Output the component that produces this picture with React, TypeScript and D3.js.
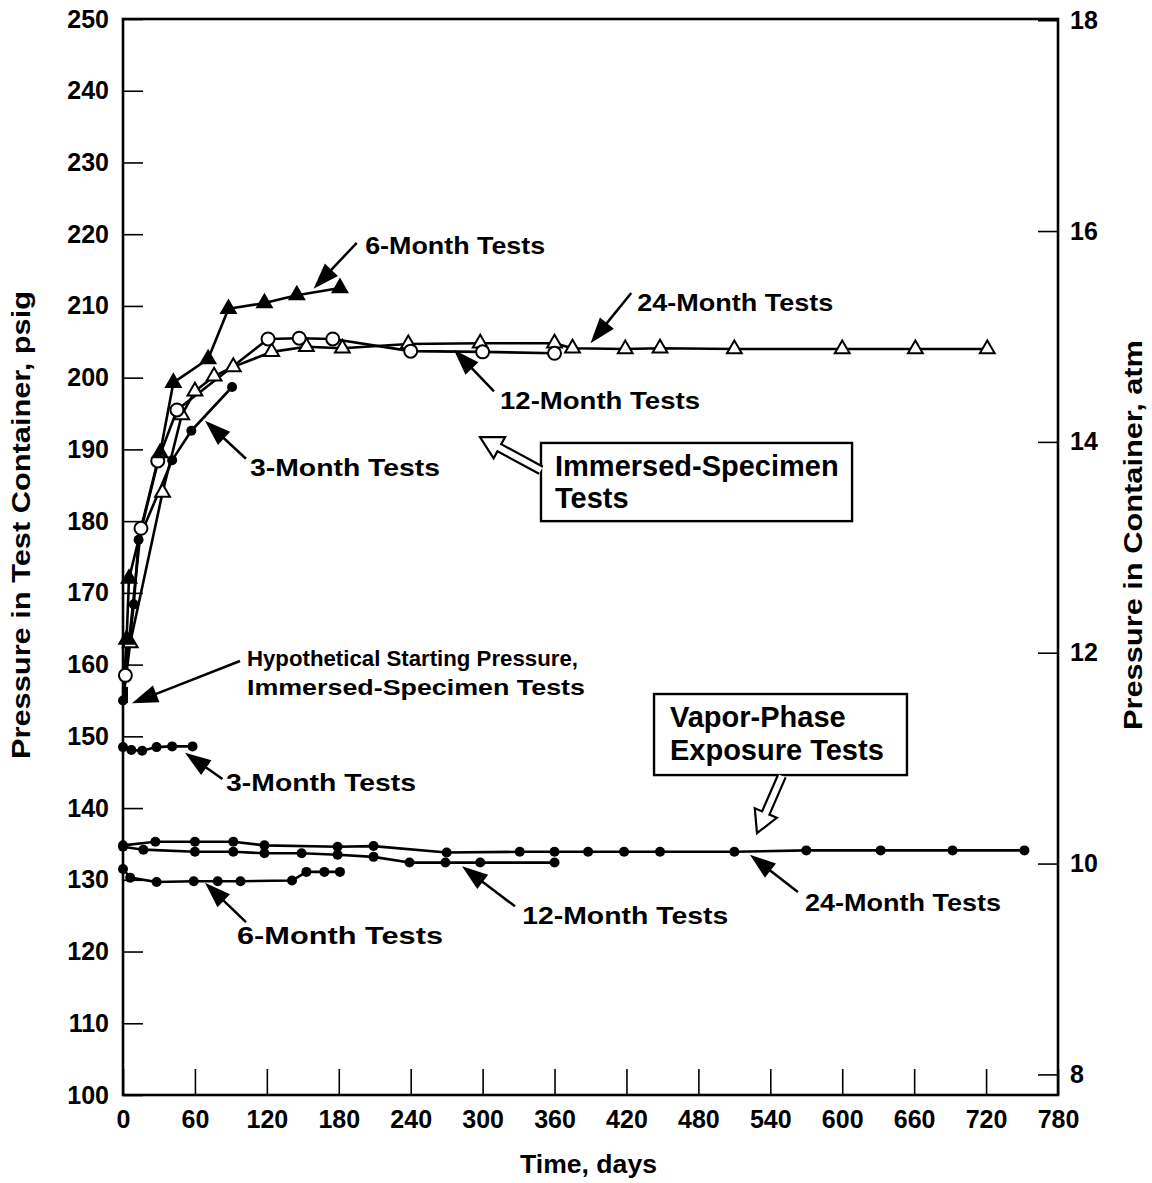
import { useEffect, useRef } from "react"
import * as d3 from "d3"

type Pt = [number, number]

// immersed-specimen tests (days, psig)
const immersed3: Pt[] = [[0, 155], [9, 168.4], [13, 177.4], [41, 188.5], [57, 192.6], [91, 198.7]]
const immersed6: Pt[] = [[0, 155], [3, 163.5], [5, 172], [31, 189.5], [42, 199.3], [71, 202.6], [88, 209.6], [118, 210.4], [145, 211.5], [181, 212.5]]
const immersed12: Pt[] = [[0, 155], [2, 158.5], [15, 179], [29, 188.4], [45, 195.5], [121, 205.4], [147, 205.5], [175, 205.4], [240, 203.7], [300, 203.6], [360, 203.4]]
const immersed24: Pt[] = [[0, 155], [6, 163], [33, 184], [49, 194.8], [60, 198.1], [76, 200.2], [92, 201.5], [124, 203.6], [153, 204.3], [183, 204.1], [238, 204.7], [298, 204.8], [360, 204.8], [375, 204.1], [419, 204], [448, 204.1], [510, 204], [600, 204], [661, 204], [721, 204]]
const startPoint: Pt[] = [[0, 155.5]]

// vapor-phase exposure tests (days, psig)
const vapor3: Pt[] = [[0, 148.5], [7, 148.1], [16, 148.0], [28, 148.5], [41, 148.6], [58, 148.6]]
const vapor6: Pt[] = [[0, 131.5], [6, 130.3], [28, 129.7], [59, 129.8], [79, 129.8], [98, 129.8], [141, 129.9], [153, 131.1], [168, 131.1], [181, 131.1]]
const vapor12: Pt[] = [[0, 134.6], [17, 134.2], [60, 133.9], [92, 133.9], [118, 133.7], [149, 133.7], [179, 133.5], [209, 133.2], [239, 132.4], [269, 132.4], [298, 132.4], [360, 132.4]]
const vapor24: Pt[] = [[0, 134.8], [27, 135.3], [60, 135.3], [92, 135.3], [118, 134.8], [179, 134.6], [209, 134.7], [270, 133.8], [331, 133.9], [360, 133.9], [388, 133.9], [418, 133.9], [448, 133.9], [510, 133.9], [570, 134.1], [632, 134.1], [692, 134.1], [752, 134.1]]

const xTicks = d3.range(0, 781, 60)
const yTicks = d3.range(100, 251, 10)
const atmTicks = [8, 10, 12, 14, 16, 18]

// callouts: label position, arrow tail and tip, all in (days, psig); widths are the printed text widths
const callouts = [
  { lines: ["6-Month Tests"], widths: [180], size: 24, at: [202, 218.5], tail: [195, 218.8], tip: [159, 212.4] },
  { lines: ["24-Month Tests"], widths: [196], size: 24, at: [429, 210.5], tail: [424, 211.8], tip: [390, 204.8] },
  { lines: ["12-Month Tests"], widths: [200], size: 24, at: [314.5, 196.9], tail: [309.5, 198.1], tip: [276, 203.9] },
  { lines: ["3-Month Tests"], widths: [190], size: 24, at: [106, 187.5], tail: [102.6, 188.7], tip: [68.4, 194.0] },
  { lines: ["Hypothetical Starting Pressure,", "Immersed-Specimen Tests"], widths: [331, 338], size: 22, at: [103.4, 160.9], tail: [97.6, 160.5], tip: [7.5, 154.6] },
  { lines: ["3-Month Tests"], widths: [190], size: 24, at: [86, 143.6], tail: [83, 144.05], tip: [51.7, 147.7] },
  { lines: ["6-Month Tests"], widths: [206], size: 24, at: [95.1, 122.2], tail: [102.6, 124.1], tip: [68.4, 129.6] },
  { lines: ["12-Month Tests"], widths: [206], size: 24, at: [333, 125.0], tail: [327, 126.3], tip: [282.8, 131.9] },
  { lines: ["24-Month Tests"], widths: [196], size: 24, at: [569, 126.9], tail: [563, 128.3], tip: [523, 133.5] },
]

const boxes = [
  { lines: ["Immersed-Specimen", "Tests"], x0: 348.7, x1: 608.2, top: 190.9, bottom: 180.0, textX: 360.4, textY: [187.8, 183.3], tail: [348.7, 187.1], tip: [297.8, 191.7] },
  { lines: ["Vapor-Phase", "Exposure Tests"], x0: 443, x1: 654, top: 155.9, bottom: 144.6, textX: 456.3, textY: [152.7, 148.1], tail: [549.7, 144.5], tip: [528.9, 136.5] },
]

const FONT = "'Liberation Sans', Arial, Helvetica, sans-serif"

export default function App() {
  const svgRef = useRef<SVGSVGElement>(null)

  useEffect(() => {
    if (!svgRef.current) return
    const svg = d3.select(svgRef.current)
    svg.selectAll("*").remove()

    const width = 1152
    const height = 1183
    const left = 123
    const right = 1058
    const top = 19
    const bottom = 1095

    const x = d3.scaleLinear().domain([0, 780]).range([left, right])
    const y = d3.scaleLinear().domain([100, 250]).range([bottom, top])
    // absolute atmospheres: psig / 14.696 + 1
    const yAtm = d3.scaleLinear().domain([100 / 14.696 + 1, 250 / 14.696 + 1]).range([bottom, top])

    svg.attr("width", width).attr("height", height).style("font-family", FONT)

    svg.append("rect").attr("width", width).attr("height", height).attr("fill", "white")

    // axes
    const axL = svg.append("g").attr("transform", `translate(${left},0)`)
      .call(d3.axisLeft(y).tickValues(yTicks).tickSizeInner(-20).tickSizeOuter(0).tickPadding(14).tickFormat(d3.format("d")))
    const axR = svg.append("g").attr("transform", `translate(${right},0)`)
      .call(d3.axisRight(yAtm).tickValues(atmTicks).tickSizeInner(-20).tickSizeOuter(0).tickPadding(12).tickFormat(d3.format("d")))
    const axB = svg.append("g").attr("transform", `translate(0,${bottom})`)
      .call(d3.axisBottom(x).tickValues(xTicks).tickSizeInner(-26).tickSizeOuter(0).tickPadding(15).tickFormat(d3.format("d")))

    ;[axL, axR, axB].forEach((ax) => {
      ax.select(".domain").remove()
      ax.selectAll("line").attr("stroke", "#000").attr("stroke-width", 1.6)
      ax.selectAll("text").attr("fill", "#000").style("font-size", "25px").style("font-weight", "bold").style("font-family", FONT)
    })
    axB.selectAll("text").attr("dy", "0.71em")

    svg.append("rect")
      .attr("x", left).attr("y", top)
      .attr("width", right - left).attr("height", bottom - top)
      .attr("fill", "none").attr("stroke", "#000").attr("stroke-width", 2.6)

    // axis titles
    svg.append("text")
      .attr("transform", `translate(30,525) rotate(-90)`)
      .attr("text-anchor", "middle")
      .attr("textLength", 468).attr("lengthAdjust", "spacingAndGlyphs")
      .style("font-size", "25px").style("font-weight", "bold")
      .text("Pressure in Test Container, psig")
    svg.append("text")
      .attr("transform", `translate(1142,535) rotate(-90)`)
      .attr("text-anchor", "middle")
      .attr("textLength", 390).attr("lengthAdjust", "spacingAndGlyphs")
      .style("font-size", "25px").style("font-weight", "bold")
      .text("Pressure in Container, atm")
    svg.append("text")
      .attr("x", (left + right) / 2 - 2).attr("y", 1173)
      .attr("text-anchor", "middle")
      .attr("textLength", 137).attr("lengthAdjust", "spacingAndGlyphs")
      .style("font-size", "25px").style("font-weight", "bold")
      .text("Time, days")

    const line = d3.line<Pt>().x((d) => x(d[0])).y((d) => y(d[1]))
    const series: { data: Pt[]; marker: string }[] = [
      { data: vapor3, marker: "dot" },
      { data: vapor6, marker: "dot" },
      { data: vapor12, marker: "dot" },
      { data: vapor24, marker: "dot" },
      { data: immersed3, marker: "dot" },
      { data: immersed24, marker: "openTri" },
      { data: immersed12, marker: "openCircle" },
      { data: immersed6, marker: "filledTri" },
    ]

    const plot = svg.append("g")
    series.forEach((s) => {
      plot.append("path").datum(s.data).attr("d", line)
        .attr("fill", "none").attr("stroke", "#000").attr("stroke-width", 2.6).attr("stroke-linejoin", "round")
    })

    const triUp = d3.symbol().type(d3.symbolTriangle)
    series.forEach((s) => {
      const pts = s.marker === "dot" ? s.data : s.data.slice(1)
      const g = plot.append("g")
      pts.forEach((d) => {
        const cx = x(d[0])
        const cy = y(d[1])
        if (s.marker === "dot") {
          g.append("circle").attr("cx", cx).attr("cy", cy).attr("r", 5).attr("fill", "#000")
        } else if (s.marker === "openCircle") {
          g.append("circle").attr("cx", cx).attr("cy", cy).attr("r", 6.5).attr("fill", "#fff").attr("stroke", "#000").attr("stroke-width", 2)
        } else if (s.marker === "openTri") {
          g.append("path").attr("d", triUp.size(95)()).attr("transform", `translate(${cx},${cy})`)
            .attr("fill", "#fff").attr("stroke", "#000").attr("stroke-width", 2)
        } else {
          g.append("path").attr("d", triUp.size(140)()).attr("transform", `translate(${cx},${cy})`)
            .attr("fill", "#000")
        }
      })
    })
    startPoint.forEach((d) => {
      plot.append("rect").attr("x", x(d[0])).attr("y", y(d[1]) - 10).attr("width", 5).attr("height", 16).attr("fill", "#000")
    })

    // filled arrow from tail to tip
    const arrow = (tail: number[], tip: number[]) => {
      const x0 = x(tail[0]), y0 = y(tail[1]), x1 = x(tip[0]), y1 = y(tip[1])
      const dx = x1 - x0, dy = y1 - y0
      const len = Math.hypot(dx, dy)
      const ux = dx / len, uy = dy / len
      const hl = 26, hw = 9
      const bx = x1 - ux * hl, by = y1 - uy * hl
      svg.append("line").attr("x1", x0).attr("y1", y0).attr("x2", bx + ux * 2).attr("y2", by + uy * 2)
        .attr("stroke", "#000").attr("stroke-width", 2.5)
      svg.append("path")
        .attr("d", `M${x1},${y1}L${bx - uy * hw},${by + ux * hw}L${bx + uy * hw},${by - ux * hw}Z`)
        .attr("fill", "#000")
    }

    // outlined (hollow) arrow
    const hollowArrow = (tail: number[], tip: number[]) => {
      const x0 = x(tail[0]), y0 = y(tail[1]), x1 = x(tip[0]), y1 = y(tip[1])
      const dx = x1 - x0, dy = y1 - y0
      const len = Math.hypot(dx, dy)
      const ux = dx / len, uy = dy / len
      const px = -uy, py = ux
      const hl = 22, hw = 12, sw = 4
      const bx = x1 - ux * hl, by = y1 - uy * hl
      const p = [
        [x0 + px * sw, y0 + py * sw],
        [bx + px * sw, by + py * sw],
        [bx + px * hw, by + py * hw],
        [x1, y1],
        [bx - px * hw, by - py * hw],
        [bx - px * sw, by - py * sw],
        [x0 - px * sw, y0 - py * sw],
      ]
      svg.append("path").attr("d", "M" + p.map((q) => q.join(",")).join("L"))
        .attr("fill", "#fff").attr("stroke", "#000").attr("stroke-width", 2.2).attr("stroke-linejoin", "miter")
    }

    callouts.forEach((c) => {
      arrow(c.tail, c.tip)
      c.lines.forEach((t, i) => {
        svg.append("text")
          .attr("x", x(c.at[0])).attr("y", y(c.at[1]) + i * 29)
          .attr("dy", "0.36em")
          .attr("textLength", c.widths[i]).attr("lengthAdjust", "spacingAndGlyphs")
          .style("font-size", `${c.size}px`).style("font-weight", "bold")
          .text(t)
      })
    })

    boxes.forEach((b) => {
      svg.append("rect")
        .attr("x", x(b.x0)).attr("y", y(b.top))
        .attr("width", x(b.x1) - x(b.x0)).attr("height", y(b.bottom) - y(b.top))
        .attr("fill", "#fff").attr("stroke", "#000").attr("stroke-width", 2.4)
      hollowArrow(b.tail, b.tip)
      b.lines.forEach((t, i) => {
        svg.append("text")
          .attr("x", x(b.textX)).attr("y", y(b.textY[i]))
          .attr("dy", "0.36em")
          .style("font-size", "29px").style("font-weight", "bold")
          .text(t)
      })
    })
  }, [])

  return (
    <div style={{ position: "absolute", left: 0, top: 0 }}>
      <svg ref={svgRef} style={{ display: "block" }} />
    </div>
  )
}
